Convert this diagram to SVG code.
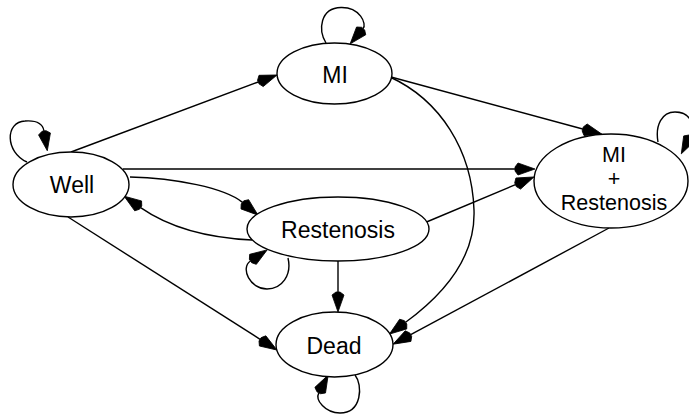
<svg xmlns="http://www.w3.org/2000/svg" width="689" height="417" viewBox="0 0 689 417">
  <style>
    .node ellipse { fill: #ffffff; stroke: #000000; stroke-width: 1.4; }
    .node text { font-family: "Liberation Sans", Arial, Helvetica, sans-serif; font-size: 23px; fill: #000000; text-anchor: middle; }
    #mi-restenosis text { font-size: 21.5px; }
    .edge { fill: none; stroke: #000000; stroke-width: 1.4; marker-end: url(#arrow); }
  </style>
  <defs>
    <marker id="arrow" markerUnits="userSpaceOnUse" markerWidth="22" markerHeight="14" viewBox="0 -7 22 14" refX="0" refY="0" orient="auto" overflow="visible">
      <polygon points="0,-2 3,-6 20,0 3,6 0,2" fill="#000000" stroke="#000000" stroke-width="0.8" stroke-linejoin="miter"/>
    </marker>
  </defs>

  <!-- transitions -->
  <g id="edges">
    <!-- Well -> MI -->
    <path class="edge" d="M71,152 L258.3,82"/>
    <!-- Well -> MI + Restenosis -->
    <path class="edge" d="M123,169 L515,169"/>
    <!-- Well -> Restenosis -->
    <path class="edge" d="M130,177 C175,178 225,188 242.5,202.4"/>
    <!-- Restenosis -> Well -->
    <path class="edge" d="M252,240 C210,238 170,228 140.6,207.6"/>
    <!-- Well -> Dead -->
    <path class="edge" d="M68,217 L260.1,339.3"/>
    <!-- MI -> MI + Restenosis -->
    <path class="edge" d="M391,77 L582.7,129"/>
    <!-- MI -> Dead -->
    <path class="edge" d="M390,77 C440,100 472,150 474,210 C476,265 432,303 405.6,322.3"/>
    <!-- Restenosis -> MI + Restenosis -->
    <path class="edge" d="M426.5,222 L515.5,184.7"/>
    <!-- Restenosis -> Dead -->
    <path class="edge" d="M338,261 L338,292"/>
    <!-- MI + Restenosis -> Dead -->
    <path class="edge" d="M609,228 L410.7,334.7"/>

    <!-- self transitions -->
    <path class="edge" d="M27,162 C5,152 5,122 25,121 C38,120 43,125 44,131"/>
    <path class="edge" d="M326,43 C318,30 320,8 341,7.5 C360,7 367,24 363.1,28.6"/>
    <path class="edge" d="M658,142 C655,125 662,112 675,112 C690,112 696,125 690.4,136"/>
    <path class="edge" d="M288,258 C292,275 282,289 267,289 C250,289 240,268 250.5,261"/>
    <path class="edge" d="M355,375 C363,385 362,413 340,413 C325,413 315,400 318.8,392.8"/>
  </g>

  <g id="well" class="node">
    <ellipse cx="71" cy="184.5" rx="58" ry="32.5"/>
    <text x="72" y="193">Well</text>
  </g>

  <g id="mi" class="node">
    <ellipse cx="334.5" cy="73.5" rx="57.5" ry="30.5"/>
    <text x="335" y="82.5">MI</text>
  </g>

  <g id="mi-restenosis" class="node">
    <ellipse cx="611" cy="181" rx="77" ry="47"/>
    <text x="614" y="161.5">MI</text>
    <text x="614" y="185.5">+</text>
    <text x="614" y="209.5">Restenosis</text>
  </g>

  <g id="restenosis" class="node">
    <ellipse cx="338" cy="229" rx="91" ry="32"/>
    <text x="338" y="237.5">Restenosis</text>
  </g>

  <g id="dead" class="node">
    <ellipse cx="334.5" cy="344.5" rx="58.5" ry="32.5"/>
    <text x="334" y="353.5">Dead</text>
  </g>
</svg>
